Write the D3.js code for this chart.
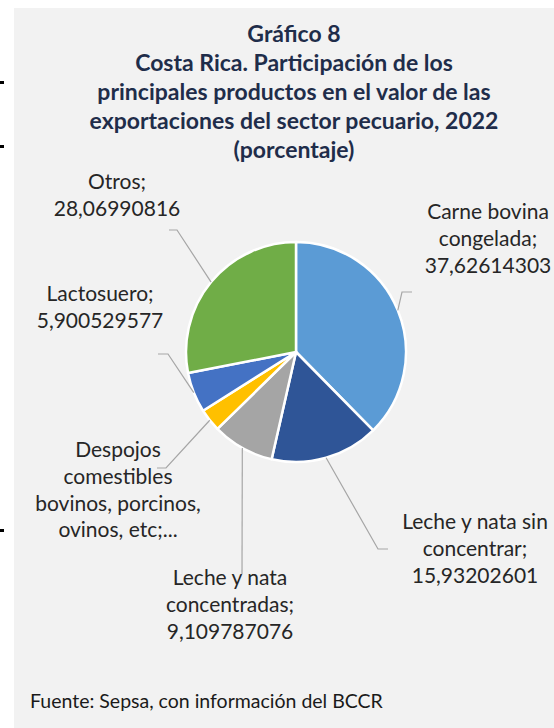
<!DOCTYPE html>
<html>
<head>
<meta charset="utf-8">
<script src="https://cdn.jsdelivr.net/npm/d3@7"></script>
<style>
  body { margin: 0; background: #fff; }
  svg { display: block; font-family: Lato, "Open Sans", sans-serif; }
</style>
</head>
<body>
<script>
// data
const categories = [
    "Carne bovina congelada",
    "Leche y nata sin concentrar",
    "Leche y nata concentradas",
    "Despojos comestibles bovinos, porcinos, ovinos, etc",
    "Lactosuero",
    "Otros"
];
const shares = [37.62614303, 15.93202601, 9.109787076, 3.361512, 5.900529577, 28.06990816];
const valueLabels = ["37,62614303", "15,93202601", "9,109787076", "", "5,900529577", "28,06990816"];
const colors = ["#5B9BD5", "#2F5597", "#A5A5A5", "#FFC000", "#4472C4", "#70AD47"];

const titleLines = [
    "Gráfico 8",
    "Costa Rica. Participación de los",
    "principales productos en el valor de las",
    "exportaciones del sector pecuario, 2022",
    "(porcentaje)"
];
const source = "Fuente: Sepsa, con información del BCCR";

// label text lines and placement (layout only)
const labelLayout = [
    {lines: ["Carne bovina", "congelada;", "37,62614303"], x: 488, y: 219, elbow: [402, 292], end: [412, 292]},
    {lines: ["Leche y nata sin", "concentrar;", "15,93202601"], x: 475, y: 529, elbow: [378, 549], end: [388, 549]},
    {lines: ["Leche y nata", "concentradas;", "9,109787076"], x: 230, y: 585, elbow: null, end: [242, 574]},
    {lines: ["Despojos", "comestibles", "bovinos, porcinos,", "ovinos, etc;..."], x: 118, y: 457, elbow: [166, 468], end: [157, 468]},
    {lines: ["Lactosuero;", "5,900529577"], x: 100, y: 301, elbow: [168, 354], end: [158, 354]},
    {lines: ["Otros;", "28,06990816"], x: 117, y: 189, elbow: [177, 230], end: [169, 230]}
];

const W = 554, H = 728;
const svg = d3.select("body").append("svg")
    .attr("width", W)
    .attr("height", H);

// panel
svg.append("rect")
    .attr("x", 14).attr("y", 8)
    .attr("width", W - 14).attr("height", H - 8)
    .attr("fill", "#F2F2F2");

// small marks at left edge
[81, 145, 529].forEach(y => {
    svg.append("rect").attr("x", 0).attr("y", y).attr("width", 4).attr("height", 3).attr("fill", "#000");
});

// title
svg.append("g")
    .selectAll("text")
    .data(titleLines)
    .enter()
    .append("text")
        .attr("x", 294)
        .attr("y", (d, i) => 42 + i * 29)
        .attr("text-anchor", "middle")
        .attr("font-size", 23)
        .attr("font-weight", "bold")
        .attr("fill", "#1F2D4A")
        .text(d => d);

// pie
const cx = 296, cy = 352, radius = 110;
const g = svg.append("g").attr("transform", "translate(" + cx + "," + cy + ")");

const pie = d3.pie().sort(null).value(d => d);
const arcs = pie(shares);
const arc = d3.arc().innerRadius(0).outerRadius(radius);

g.selectAll("path.slice")
    .data(arcs)
    .enter()
    .append("path")
        .attr("class", "slice")
        .attr("d", arc)
        .attr("fill", (d, i) => colors[i])
        .attr("stroke", "#fff")
        .attr("stroke-width", 2.5)
        .attr("stroke-linejoin", "round");

// leader lines
const edgePoint = d => {
    const a = (d.startAngle + d.endAngle) / 2;
    return [cx + radius * Math.sin(a), cy - radius * Math.cos(a)];
};

arcs.forEach((d, i) => {
    const lay = labelLayout[i];
    const pts = [edgePoint(d)];
    if (lay.elbow) pts.push(lay.elbow);
    pts.push(lay.end);
    svg.append("path")
        .attr("d", d3.line()(pts))
        .attr("fill", "none")
        .attr("stroke", "#A6A6A6")
        .attr("stroke-width", 1.2);
});

// labels
labelLayout.forEach(lay => {
    const t = svg.append("text")
        .attr("text-anchor", "middle")
        .attr("font-size", 21)
        .attr("fill", "#262626");
    lay.lines.forEach((line, j) => {
        t.append("tspan")
            .attr("x", lay.x)
            .attr("y", lay.y + j * 26.8)
            .text(line);
    });
});

// source
svg.append("text")
    .attr("x", 30)
    .attr("y", 708)
    .attr("font-size", 19.5)
    .attr("fill", "#1a1a1a")
    .text(source);
</script>
</body>
</html>
